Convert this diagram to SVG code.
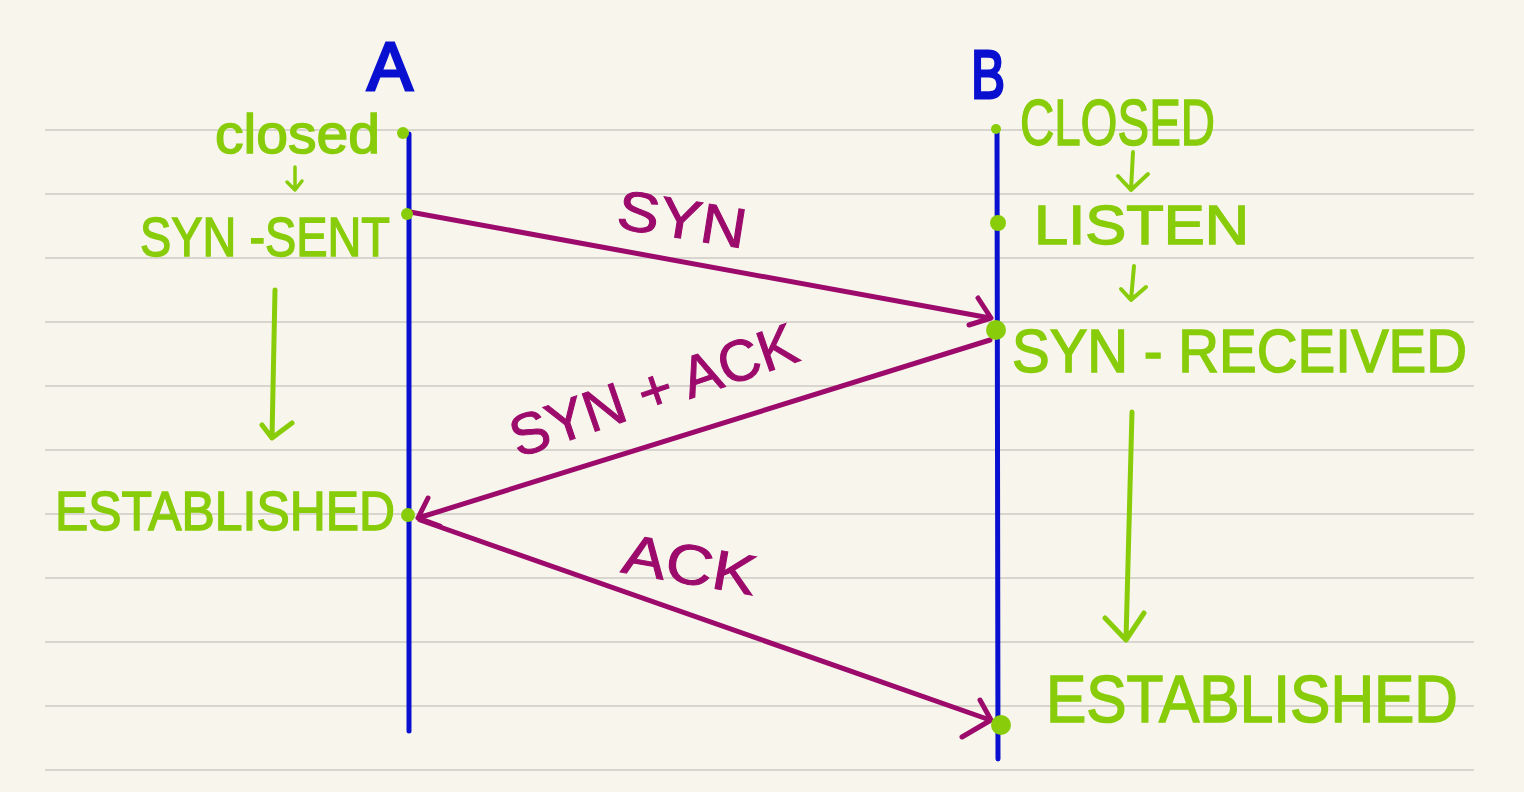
<svg xmlns="http://www.w3.org/2000/svg" width="1524" height="792" viewBox="0 0 1524 792">
<defs>
<style>
.rule{stroke:#d8d5cf;stroke-width:2}
.life{stroke:#0a10d0;stroke-width:5;stroke-linecap:round}
.msg{stroke:#9c0a6c;stroke-width:5;fill:none;stroke-linecap:round;stroke-linejoin:round}
.flow{stroke:#88cc0a;stroke-width:5;fill:none;stroke-linecap:round;stroke-linejoin:round}
.dot{fill:#88cc0a}
.state{font-family:"Liberation Sans","DejaVu Sans",sans-serif;fill:#88cc0a;stroke:#88cc0a;stroke-width:1.5}
.lbl{font-family:"Liberation Sans","DejaVu Sans",sans-serif;fill:#9c0a6c;stroke:#9c0a6c;stroke-width:1}
.actor{font-family:"Liberation Sans","DejaVu Sans",sans-serif;fill:#0a10d0;stroke:#0a10d0;stroke-width:3;font-size:68px}
</style>
</defs>
<rect width="1524" height="792" fill="#f8f6ec"/>
<g id="rules">
<line class="rule" x1="45" y1="130" x2="1474" y2="130"/>
<line class="rule" x1="45" y1="194" x2="1474" y2="194"/>
<line class="rule" x1="45" y1="258" x2="1474" y2="258"/>
<line class="rule" x1="45" y1="322" x2="1474" y2="322"/>
<line class="rule" x1="45" y1="386" x2="1474" y2="386"/>
<line class="rule" x1="45" y1="450" x2="1474" y2="450"/>
<line class="rule" x1="45" y1="514" x2="1474" y2="514"/>
<line class="rule" x1="45" y1="578" x2="1474" y2="578"/>
<line class="rule" x1="45" y1="642" x2="1474" y2="642"/>
<line class="rule" x1="45" y1="706" x2="1474" y2="706"/>
<line class="rule" x1="45" y1="770" x2="1474" y2="770"/>
</g>
<g id="actor-A">
<text class="actor" x="390" y="90" text-anchor="middle">A</text>
<line class="life" x1="409" y1="134" x2="409" y2="731"/>
</g>
<g id="actor-B">
<text class="actor" x="988" y="98" text-anchor="middle" textLength="34" lengthAdjust="spacingAndGlyphs">B</text>
<line class="life" x1="997" y1="130" x2="998" y2="759"/>
</g>
<g id="connectors">
<path class="msg" d="M410 212 L990 318 M978 298 L991 318 L969 325"/>
<path class="msg" d="M990 340 L418 518 M428 498 L418 518 L440 526"/>
<path class="msg" d="M420 520 L990 720 M980 700 L991 720 L962 737"/>
<text class="lbl" font-size="56" transform="translate(615 228) rotate(9)" textLength="130" lengthAdjust="spacingAndGlyphs">SYN</text>
<text class="lbl" font-size="58" transform="translate(518 458) rotate(-19)" textLength="300" lengthAdjust="spacingAndGlyphs">SYN + ACK</text>
<text class="lbl" font-size="56" transform="translate(620 572) rotate(10)" textLength="135" lengthAdjust="spacingAndGlyphs">ACK</text>
</g>
<g id="state-A-closed">
<text class="state" x="215" y="153" font-size="56" textLength="165" lengthAdjust="spacingAndGlyphs">closed</text>
<circle class="dot" cx="403" cy="133" r="6"/>
<path class="flow" d="M295 167 L295 190 M287 182 L295 190 L302 181" style="stroke-width:3.5"/>
</g>
<g id="state-A-synsent">
<text class="state" x="140" y="256" font-size="56" textLength="250" lengthAdjust="spacingAndGlyphs">SYN -SENT</text>
<circle class="dot" cx="407" cy="214" r="6"/>
<path class="flow" d="M275 290 L272 438 M262 425 L272 438 L292 423"/>
</g>
<g id="state-A-established">
<text class="state" x="55" y="530" font-size="56" textLength="340" lengthAdjust="spacingAndGlyphs">ESTABLISHED</text>
<circle class="dot" cx="408" cy="515" r="7"/>
</g>
<g id="state-B-closed">
<text class="state" x="1020" y="145" font-size="64" textLength="195" lengthAdjust="spacingAndGlyphs">CLOSED</text>
<circle class="dot" cx="996" cy="129" r="5"/>
<path class="flow" d="M1133 152 L1131 190 M1118 176 L1131 190 L1148 174" style="stroke-width:4"/>
</g>
<g id="state-B-listen">
<text class="state" x="1034" y="244" font-size="56" textLength="215" lengthAdjust="spacingAndGlyphs">LISTEN</text>
<circle class="dot" cx="998" cy="223" r="8"/>
<path class="flow" d="M1134 266 L1131 300 M1121 289 L1131 300 L1146 287" style="stroke-width:4"/>
</g>
<g id="state-B-synreceived">
<text class="state" x="1012" y="372" font-size="62" textLength="455" lengthAdjust="spacingAndGlyphs">SYN - RECEIVED</text>
<circle class="dot" cx="996" cy="330" r="10"/>
<path class="flow" d="M1132 412 L1126 640 M1105 618 L1126 640 L1144 613"/>
</g>
<g id="state-B-established">
<text class="state" x="1046" y="722" font-size="66" textLength="412" lengthAdjust="spacingAndGlyphs">ESTABLISHED</text>
<circle class="dot" cx="1001" cy="725" r="10"/>
</g>
</svg>
